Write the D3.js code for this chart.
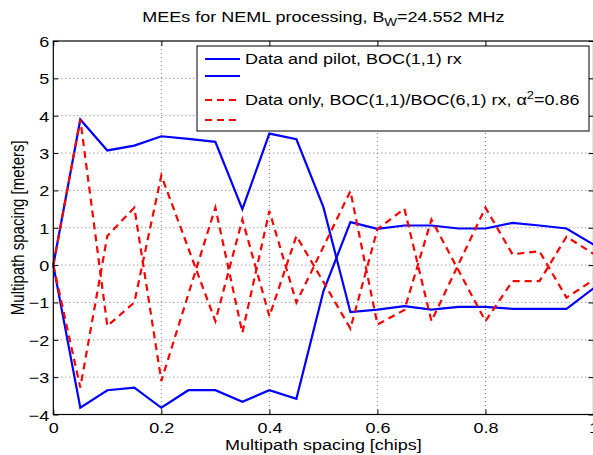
<!DOCTYPE html>
<html>
<head>
<meta charset="utf-8">
<script src="https://cdn.jsdelivr.net/npm/d3@7"></script>
<style>
  html, body { margin: 0; padding: 0; background: #fff; }
  svg { display: block; }
  text { font-family: "Liberation Sans", Arial, Helvetica, sans-serif; fill: #000; }
</style>
</head>
<body>
<svg id="chart" width="593" height="455"></svg>
<script>
// ---- data ----
const spacingChips = [0, 0.05, 0.1, 0.15, 0.2, 0.25, 0.3, 0.35, 0.4, 0.45, 0.5,
                      0.55, 0.6, 0.65, 0.7, 0.75, 0.8, 0.85, 0.9, 0.95, 1.0];
const pilotUpper = [0, 3.9, 3.07, 3.2, 3.45, 3.38, 3.3, 1.5, 3.52, 3.37, 1.55,
                    -1.26, -1.19, -1.1, -1.19, -1.12, -1.12, -1.17, -1.17, -1.17, -0.62];
const pilotLower = [0, -3.82, -3.35, -3.28, -3.82, -3.35, -3.35, -3.66, -3.35, -3.58, -0.7,
                    1.15, 0.97, 1.06, 1.06, 0.98, 0.98, 1.13, 1.06, 0.98, 0.55];
const dataOnlyA = [0, 3.9, -1.63, -1.0, 2.4, 0.45, -1.5, 1.22, -1.37, 0.78, -0.45,
                   -1.7, 0.96, 1.51, -1.5, 0.02, 1.54, 0.29, 0.37, -0.87, -0.4];
const dataOnlyB = [0, -3.28, 0.78, 1.54, -3.1, -0.78, 1.54, -1.81, 1.45, -1.0, 0.49,
                   1.98, -1.59, -1.2, 1.22, -0.14, -1.5, -0.43, -0.43, 0.76, 0.3];
const xTickValues = [0, 0.2, 0.4, 0.6, 0.8, 1];
const xTickLabels = ["0", "0.2", "0.4", "0.6", "0.8", "1"];
const yTickValues = [-4, -3, -2, -1, 0, 1, 2, 3, 4, 5, 6];
const legendLabels = ["Data and pilot, BOC(1,1) rx", "", "Data only, BOC(1,1)/BOC(6,1) rx, ", ""];
const titleText = ["MEEs for NEML processing, B", "W", "=24.552 MHz"];
const xLabel = "Multipath spacing [chips]";
const yLabel = "Multipath spacing [meters]";

// ---- layout ----
const L = 53.3, R = 593.5, T = 41, B = 414.5;
const FS = 15, SX = 1.2;
const BLUE = "#0000ff", RED = "#ff0000";

const svg = d3.select("#chart");
const x = d3.scaleLinear().domain([0, 1]).range([L, R]);
const y = d3.scaleLinear().domain([-4, 6]).range([B, T]);

// grid
const grid = svg.append("g");
grid.selectAll("line.gx").data(xTickValues.filter(v => v > 0 && v < 1)).join("line")
  .attr("x1", d => x(d)).attr("x2", d => x(d)).attr("y1", T).attr("y2", B)
  .attr("stroke", "#555").attr("stroke-width", 0.8).attr("stroke-dasharray", "1,3");
grid.selectAll("line.gy").data(yTickValues.filter(v => v > -4 && v < 6)).join("line")
  .attr("x1", L).attr("x2", R).attr("y1", d => y(d)).attr("y2", d => y(d))
  .attr("stroke", "#555").attr("stroke-width", 0.8).attr("stroke-dasharray", "1,3");

// series
const line = d3.line().x((d, i) => x(spacingChips[i])).y(d => y(d));
const series = [
  { v: pilotUpper, c: BLUE, dash: null },
  { v: pilotLower, c: BLUE, dash: null },
  { v: dataOnlyA, c: RED, dash: "7,5" },
  { v: dataOnlyB, c: RED, dash: "7,5" }
];
svg.append("g").selectAll("path").data(series).join("path")
  .attr("d", d => line(d.v)).attr("fill", "none")
  .attr("stroke", d => d.c).attr("stroke-width", 2.2)
  .attr("stroke-dasharray", d => d.dash)
  .attr("stroke-linejoin", "miter");

// axes (inward ticks, box)
function styleAxis(g) {
  g.select(".domain").remove();
  g.selectAll(".tick line").attr("stroke", "#000").attr("stroke-width", 1);
}
const xAxis = svg.append("g").attr("transform", `translate(0,${B})`)
  .call(d3.axisBottom(x).tickValues(xTickValues).tickFormat((d, i) => xTickLabels[i])
    .tickSizeInner(-5).tickSizeOuter(0));
styleAxis(xAxis);
xAxis.selectAll(".tick text").attr("x", null).attr("y", null).attr("dy", null)
  .attr("font-size", FS).attr("text-anchor", "middle")
  .attr("transform", `translate(0,18) scale(${SX},1)`);

const xAxisTop = svg.append("g").attr("transform", `translate(0,${T})`)
  .call(d3.axisTop(x).tickValues(xTickValues).tickFormat("").tickSizeInner(-5).tickSizeOuter(0));
styleAxis(xAxisTop);

const yAxis = svg.append("g").attr("transform", `translate(${L},0)`)
  .call(d3.axisLeft(y).tickValues(yTickValues).tickFormat(d => d < 0 ? "\u2212" + Math.abs(d) : String(d))
    .tickSizeInner(-5).tickSizeOuter(0));
styleAxis(yAxis);
yAxis.selectAll(".tick text").attr("x", null).attr("y", null).attr("dy", null)
  .attr("font-size", FS).attr("text-anchor", "end")
  .attr("transform", `translate(-4,5.5) scale(${SX},1)`);

const yAxisRight = svg.append("g").attr("transform", `translate(${R},0)`)
  .call(d3.axisRight(y).tickValues(yTickValues).tickFormat("").tickSizeInner(-5).tickSizeOuter(0));
styleAxis(yAxisRight);

svg.append("rect").attr("x", L).attr("y", T).attr("width", R - L).attr("height", B - T)
  .attr("fill", "none").attr("stroke", "#000").attr("stroke-width", 1.2);

// title
const title = svg.append("text").attr("font-size", FS).attr("text-anchor", "middle")
  .attr("transform", `translate(${(L + R) / 2},22) scale(${SX},1)`);
title.append("tspan").text(titleText[0]);
title.append("tspan").attr("font-size", FS * 0.75).attr("dy", 4).text(titleText[1]);
title.append("tspan").attr("dy", -4).text(titleText[2]);

// axis labels
svg.append("text").attr("font-size", FS).attr("text-anchor", "middle")
  .attr("transform", `translate(${(L + R) / 2},450) scale(${SX},1)`).text(xLabel);
svg.append("text").attr("font-size", FS).attr("text-anchor", "middle")
  .attr("transform", `translate(24,${(T + B) / 2}) scale(${SX},1) rotate(-90)`).text(yLabel);

// legend
const lg = svg.append("g");
lg.append("rect").attr("x", 197).attr("y", 46).attr("width", 392).attr("height", 85)
  .attr("fill", "#fff").attr("stroke", "#000").attr("stroke-width", 1);
const rowsY = [59, 76, 100, 120];
const legendItems = series.map((s, i) => ({ s, label: legendLabels[i], ry: rowsY[i] }));
lg.selectAll("line.lgl").data(legendItems).join("line")
  .attr("x1", 205).attr("x2", 240).attr("y1", d => d.ry).attr("y2", d => d.ry)
  .attr("stroke", d => d.s.c).attr("stroke-width", 2.2).attr("stroke-dasharray", d => d.s.dash);
legendItems.forEach((d, i) => {
  if (!d.label) return;
  const t = lg.append("text").attr("font-size", FS)
    .attr("transform", `translate(245,${d.ry + 5}) scale(${SX},1)`);
  t.append("tspan").text(d.label);
  if (i === 2) {
    t.append("tspan").text("\u03b1");
    t.append("tspan").attr("font-size", FS * 0.72).attr("dy", -6).text("2");
    t.append("tspan").attr("dy", 6).text("=0.86");
  }
});
</script>
</body>
</html>
